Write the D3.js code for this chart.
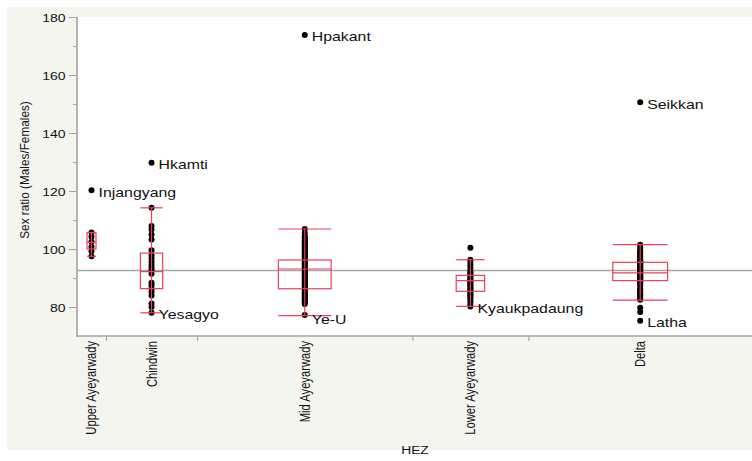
<!DOCTYPE html>
<html>
<head>
<meta charset="utf-8">
<script src="https://cdn.jsdelivr.net/npm/d3@7/dist/d3.min.js"></script>
<style>
  html, body { margin: 0; padding: 0; background: #ffffff; }
  svg { display: block; }
  text { font-family: "Liberation Sans", Arial, Helvetica, sans-serif; fill: #111; }
</style>
</head>
<body>
<svg id="chart" width="752" height="461"></svg>
<script>
// Hydro-ecological zones (HEZ) and township sex ratios (males per 100 females)
const zones = ["Upper Ayeyarwady", "Chindwin", "Mid Ayeyarwady", "Lower Ayeyarwady", "Delta"];

const upperAyeyarwady = [120.3, 105.7, 104.2, 102.5, 100.8, 99.2, 97.5];
const chindwin = [129.7, 114.2, 107.9, 106.7, 105.0, 103.3, 99.6, 97.8, 96.7, 95.5, 94.5,
  93.5, 92.7, 91.5, 88.4, 87.5, 86.3, 85.2, 84.0, 81.2, 80.0, 78.0];
const midAyeyarwady = [173.8, 106.9, 105.5, 104.5, 104, 103.5, 103, 102.5, 102, 101.5, 101,
  100.5, 100, 99.5, 99, 98.5, 98, 97.5, 97, 96.5, 96, 95.5, 95, 94.5, 94, 93.5, 93, 92.5,
  92, 91.5, 91, 90.5, 90, 89.5, 89, 88.5, 88, 87.5, 87, 86.5, 86, 85.5, 85, 84.5, 84,
  83.5, 83, 82.5, 82, 81.5, 81, 77.2];
const lowerAyeyarwady = [100.4, 96.3, 95.5, 94.5, 93.5, 92.5, 92, 91.5, 91, 90.5, 90, 89.5,
  89, 88.5, 88, 87.5, 87, 86.5, 86, 85.5, 85, 84.5, 84, 83.5, 83, 82, 81, 80.2];
const delta = [150.6, 101.5, 100.5, 99.5, 99, 98.5, 98, 97.5, 97, 96.5, 96, 95.8, 95.5, 95.2,
  95, 94.8, 94.5, 94.2, 94, 93.8, 93.5, 93.2, 93, 92.8, 92.5, 92.2, 92, 91.8, 91.5, 91.2,
  91, 90.8, 90.5, 90.2, 90, 89.8, 89.5, 89.2, 89, 88.5, 88, 87.5, 86.5, 86, 85.5, 85, 84.5,
  84, 83.5, 83, 82.5, 79.7, 78.3, 75.3];

// Box-plot summaries per zone
const q1 = [100.0, 86.35, 86.3, 85.4, 89.1];
const medians = [102.3, 92.2, 93.1, 89.1, 91.8];
const q3 = [105.6, 98.6, 96.2, 90.9, 95.4];
const whiskerLow = [97.5, 78.0, 77.0, 80.2, 82.4];
const whiskerHigh = [105.7, 114.2, 106.9, 96.3, 101.5];

const grandMean = 92.6;

// Named townships
const labelNames = ["Injangyang", "Hkamti", "Yesagyo", "Hpakant", "Ye-U", "Kyaukpadaung", "Seikkan", "Latha"];
const labelZones = [0, 1, 1, 2, 2, 3, 4, 4];
const labelValues = [120.3, 129.7, 78.0, 173.8, 77.2, 80.2, 150.6, 75.3];

const yTicks = [80, 100, 120, 140, 160, 180];
const yMinorTicks = [90, 110, 130, 150, 170];

const seriesByZone = [upperAyeyarwady, chindwin, midAyeyarwady, lowerAyeyarwady, delta];

// ---- layout ----
const W = 752, H = 461;
const plot = { left: 77, top: 17, right: 752, bottom: 336 };
const SX = 1.25;               // horizontal text stretch
const boxRed = "#e8405e";
const axisGrey = "#a3a3a3";

const svg = d3.select("#chart");

// panel background and white plot area
svg.append("rect").attr("x", 7).attr("y", 7).attr("width", W - 7).attr("height", 443)
  .attr("fill", "#f5f5f0");
svg.append("rect").attr("x", plot.left).attr("y", plot.top)
  .attr("width", plot.right - plot.left).attr("height", plot.bottom - plot.top)
  .attr("fill", "#ffffff");

// x: zone widths proportional to number of townships
const counts = seriesByZone.map(s => s.length);
const cum = [0];
counts.forEach(c => cum.push(cum[cum.length - 1] + c));
const x = d3.scaleLinear().domain([0, cum[cum.length - 1]]).range([plot.left, plot.right]);
const centers = zones.map((z, i) => x((cum[i] + cum[i + 1]) / 2));
const bandW = zones.map((z, i) => x(cum[i + 1]) - x(cum[i]));

const y = d3.scaleLinear().domain([70, 180]).range([plot.bottom, plot.top]);

// grand mean reference line
svg.append("line")
  .attr("x1", plot.left).attr("x2", plot.right)
  .attr("y1", y(grandMean)).attr("y2", y(grandMean))
  .attr("stroke", "#a8a8a8").attr("stroke-width", 1.5);

// points
const pts = svg.append("g");
seriesByZone.forEach((vals, i) => {
  pts.selectAll(null).data(vals).enter().append("circle")
    .attr("cx", centers[i]).attr("cy", d => y(d)).attr("r", 3)
    .attr("fill", "#000");
});

// boxes and whiskers
const boxes = svg.append("g").attr("fill", "none").attr("stroke", boxRed).attr("stroke-width", 1.2);
zones.forEach((z, i) => {
  const bw = Math.max(9, bandW[i] * 0.245);
  const cx = centers[i];
  boxes.append("line").attr("x1", cx).attr("x2", cx)
    .attr("y1", y(whiskerHigh[i])).attr("y2", y(whiskerLow[i]));
  boxes.append("rect").attr("x", cx - bw / 2).attr("y", y(q3[i]))
    .attr("width", bw).attr("height", y(q1[i]) - y(q3[i]));
  boxes.append("line").attr("x1", cx - bw / 2).attr("x2", cx + bw / 2)
    .attr("y1", y(medians[i])).attr("y2", y(medians[i]));
  [whiskerHigh[i], whiskerLow[i]].forEach(v => {
    boxes.append("line").attr("x1", cx - bw / 2).attr("x2", cx + bw / 2)
      .attr("y1", y(v)).attr("y2", y(v));
  });
});

// township labels
const lab = svg.append("g");
labelNames.forEach((name, k) => {
  const cx = centers[labelZones[k]];
  const cy = y(labelValues[k]) + (name === "Ye-U" ? 8.5 : 6.5);
  lab.append("text")
    .attr("transform", `translate(${cx + 7},${cy}) scale(${SX},1)`)
    .style("font-size", "12.7px")
    .text(name);
});

// y axis
const yAxis = svg.append("g").attr("transform", `translate(${plot.left},0)`)
  .call(d3.axisLeft(y).tickValues(yTicks).tickSize(8).tickPadding(4));
yAxis.select(".domain").remove();
yAxis.selectAll(".tick line").attr("stroke", axisGrey).attr("stroke-width", 1);
yAxis.selectAll(".tick text")
  .attr("x", 0).attr("dy", null)
  .attr("transform", `translate(-11.5,4) scale(${SX},1)`)
  .style("font-size", "11.2px").style("font-family", null).attr("fill", "#111");

const yMinor = svg.append("g").attr("transform", `translate(${plot.left},0)`)
  .call(d3.axisLeft(y).tickValues(yMinorTicks).tickSize(4).tickFormat(""));
yMinor.select(".domain").remove();
yMinor.selectAll(".tick line").attr("stroke", axisGrey);

svg.append("line").attr("x1", plot.left).attr("x2", plot.left)
  .attr("y1", plot.top).attr("y2", plot.bottom + 1)
  .attr("stroke", axisGrey).attr("stroke-width", 1.6);

// x axis: zone boundaries
const xAxis = svg.append("g").attr("transform", `translate(0,${plot.bottom})`)
  .call(d3.axisBottom(x).tickValues(cum.slice(1, -1)).tickSize(5).tickFormat(""));
xAxis.select(".domain").remove();
xAxis.selectAll(".tick line").attr("stroke", axisGrey);
svg.append("line").attr("x1", plot.left).attr("x2", plot.right)
  .attr("y1", plot.bottom).attr("y2", plot.bottom)
  .attr("stroke", axisGrey).attr("stroke-width", 1.6);

// zone names, rotated
zones.forEach((z, i) => {
  svg.append("text")
    .attr("transform", `translate(${centers[i] + 5},${341}) scale(${SX},1) rotate(-90)`)
    .attr("text-anchor", "end")
    .style("font-size", "11.2px")
    .text(z);
});

// axis titles
svg.append("text")
  .attr("transform", `translate(29,170) scale(1.15,1) rotate(-90)`)
  .attr("text-anchor", "middle")
  .style("font-size", "11.8px")
  .text("Sex ratio (Males/Females)");

svg.append("text")
  .attr("transform", `translate(415,454) scale(1.2,1)`)
  .attr("text-anchor", "middle")
  .style("font-size", "11.5px")
  .text("HEZ");
</script>
</body>
</html>
